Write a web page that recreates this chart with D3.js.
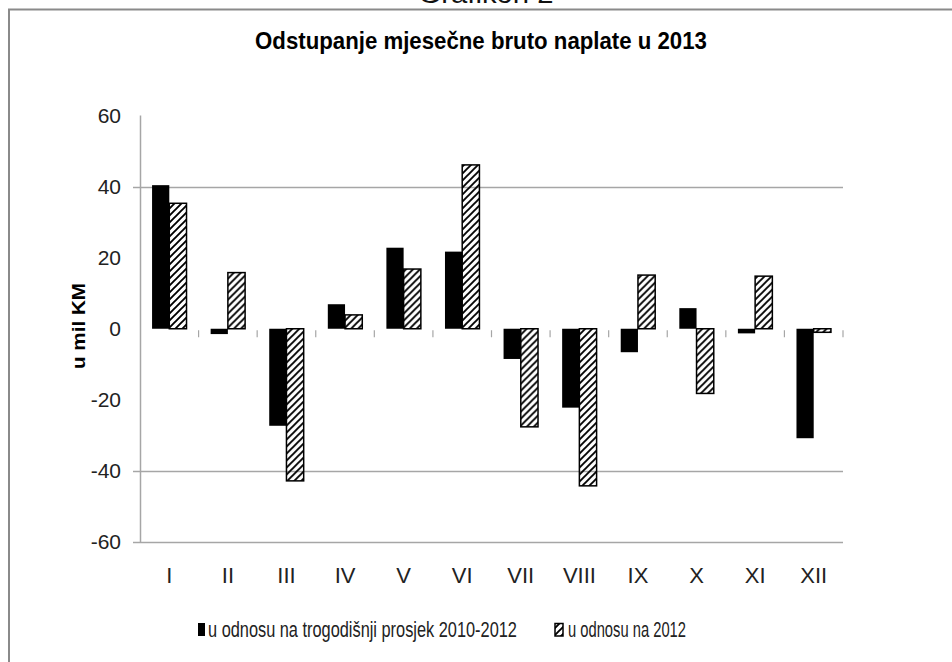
<!DOCTYPE html>
<html>
<head>
<meta charset="utf-8">
<script src="https://cdn.jsdelivr.net/npm/d3@7"></script>
<style>
  body { margin: 0; background: #fff; }
  svg { display: block; }
</style>
</head>
<body>
<div id="plot"></div>
<script>
// chart data (u mil KM)
var months = ["I", "II", "III", "IV", "V", "VI", "VII", "VIII", "IX", "X", "XI", "XII"];
var vsAverage = [40.4, -1.5, -27.3, 6.9, 22.8, 21.7, -8.5, -22.2, -6.6, 5.8, -1.3, -30.8];
var vs2012 = [35.3, 15.8, -42.8, 3.9, 16.8, 46.1, -27.6, -44.2, 15.1, -18.2, 14.8, -1.0];
var seriesKeys = ["avg", "y2012"];
var seriesLabels = ["u odnosu na trogodišnji prosjek 2010-2012", "u odnosu na 2012"];
var yTicks = [-60, -40, -20, 0, 20, 40, 60];
var gridValues = [40, -40, -60];

var W = 952, H = 662;
var narrow = "'Liberation Sans Narrow', 'Liberation Sans', Arial, sans-serif";

var svg = d3.select("#plot")
	.append("svg")
	.attr("width", W)
	.attr("height", H);

//squeeze a text horizontally to a given width (the original font is condensed)
function squeeze(x, y, width, anchor, attrs, str) {
	var g = svg.append("g");
	var t = g.append("text")
		.attr("text-anchor", anchor)
		.text(str);
	Object.keys(attrs).forEach(function (k) { t.attr(k, attrs[k]); });
	var natural = t.node().getComputedTextLength();
	g.attr("transform", "translate(" + x + "," + y + ") scale(" + (width / natural) + ",1)");
	return g;
}

//hatch pattern for second series
var defs = svg.append("defs");
defs.append("pattern")
	.attr("id", "hatch")
	.attr("patternUnits", "userSpaceOnUse")
	.attr("width", 7)
	.attr("height", 7)
	.append("path")
	.attr("d", "M-1,1 l2,-2 M0,7 l7,-7 M6,8 l2,-2")
	.attr("stroke", "#000")
	.attr("stroke-width", 1.9);

//outer frame (only top and left visible)
svg.append("path")
	.attr("d", "M9," + H + " L9,9.5 L" + W + ",9.5")
	.attr("fill", "none")
	.attr("stroke", "#8a8a8a")
	.attr("stroke-width", 2);

//caption cut off above the frame
squeeze(486, 3, 135, "middle",
	{ "font-family": "'Liberation Sans', Arial, sans-serif", "font-size": 28, "fill": "#111" },
	"Grafikon 2");

//title
squeeze(481, 49, 452, "middle",
	{ "font-family": narrow, "font-weight": "bold", "font-size": 23, "fill": "#000" },
	"Odstupanje mjesečne bruto naplate u 2013");

//scales
var xScale = d3.scaleBand()
	.domain(months)
	.range([140, 843]);

var xInner = d3.scaleBand()
	.domain(seriesKeys)
	.range([0, xScale.bandwidth()])
	.paddingOuter(0.7);

var yScale = d3.scaleLinear()
	.domain([-60, 60])
	.range([542, 115.5]);

var table = months.map(function (m, i) {
	return { month: m, avg: vsAverage[i], y2012: vs2012[i] };
});

//gridlines
svg.append("g")
	.selectAll("line")
	.data(gridValues)
	.enter().append("line")
	.attr("x1", 133)
	.attr("x2", xScale.range()[1])
	.attr("y1", function (d) { return Math.round(yScale(d)) + 0.5; })
	.attr("y2", function (d) { return Math.round(yScale(d)) + 0.5; })
	.attr("stroke", "#a6a6a6")
	.attr("stroke-width", 1.5);

//vertical axis line
svg.append("line")
	.attr("x1", 140.5).attr("x2", 140.5)
	.attr("y1", yScale(60)).attr("y2", yScale(-60))
	.attr("stroke", "#a6a6a6")
	.attr("stroke-width", 1.5);

//category separator ticks under zero
svg.append("g")
	.selectAll("line")
	.data(d3.range(1, months.length + 1))
	.enter().append("line")
	.attr("x1", function (i) { return xScale.range()[0] + i * xScale.step(); })
	.attr("x2", function (i) { return xScale.range()[0] + i * xScale.step(); })
	.attr("y1", yScale(0) + 1.5)
	.attr("y2", yScale(0) + 8.5)
	.attr("stroke", "#a6a6a6")
	.attr("stroke-width", 1.2);

//y axis labels (plain hyphen minus like the original)
var yAxis = svg.append("g")
	.attr("transform", "translate(140,0)")
	.call(d3.axisLeft(yScale).tickValues(yTicks).tickSize(0).tickPadding(19)
		.tickFormat(function (d) { return String(d); }));
yAxis.select(".domain").remove();
yAxis.selectAll("text")
	.attr("font-family", narrow)
	.attr("font-size", 21)
	.attr("fill", "#222");

//x axis labels
var xAxis = svg.append("g")
	.attr("transform", "translate(0,567)")
	.call(d3.axisBottom(xScale).tickSize(0).tickPadding(0));
xAxis.select(".domain").remove();
xAxis.selectAll("text")
	.attr("font-family", narrow)
	.attr("font-size", 22)
	.attr("fill", "#222");

//y axis title
svg.append("text")
	.attr("transform", "translate(85,326) rotate(-90)")
	.attr("text-anchor", "middle")
	.attr("font-family", narrow)
	.attr("font-weight", "bold")
	.attr("font-size", 19)
	.attr("textLength", 86)
	.attr("lengthAdjust", "spacingAndGlyphs")
	.attr("fill", "#000")
	.text("u mil KM");

//draw bars
var groups = svg.append("g")
	.selectAll("g")
	.data(table)
	.enter().append("g")
	.attr("transform", function (d) { return "translate(" + xScale(d.month) + ",0)"; });

groups.selectAll("rect")
	.data(function (d) {
		return seriesKeys.map(function (k) { return { key: k, value: d[k] }; });
	})
	.enter().append("rect")
	.attr("x", function (d) { return xInner(d.key); })
	.attr("y", function (d) { return yScale(Math.max(0, d.value)); })
	.attr("width", xInner.bandwidth())
	.attr("height", function (d) { return Math.abs(yScale(d.value) - yScale(0)); })
	.attr("fill", function (d) { return d.key === "avg" ? "#000" : "url(#hatch)"; })
	.attr("stroke", function (d) { return d.key === "avg" ? "none" : "#000"; })
	.attr("stroke-width", 1.5);

//legend
var legendFont = { "font-family": narrow, "font-size": 22, "fill": "#222" };

svg.append("rect")
	.attr("x", 198).attr("y", 623)
	.attr("width", 7).attr("height", 13)
	.attr("fill", "#000");
squeeze(208, 637, 309, "start", legendFont, seriesLabels[0]);

svg.append("rect")
	.attr("x", 555).attr("y", 623.5)
	.attr("width", 8).attr("height", 12.5)
	.attr("fill", "url(#hatch)")
	.attr("stroke", "#000")
	.attr("stroke-width", 1.5);
squeeze(568, 637, 118, "start", legendFont, seriesLabels[1]);
</script>
</body>
</html>
